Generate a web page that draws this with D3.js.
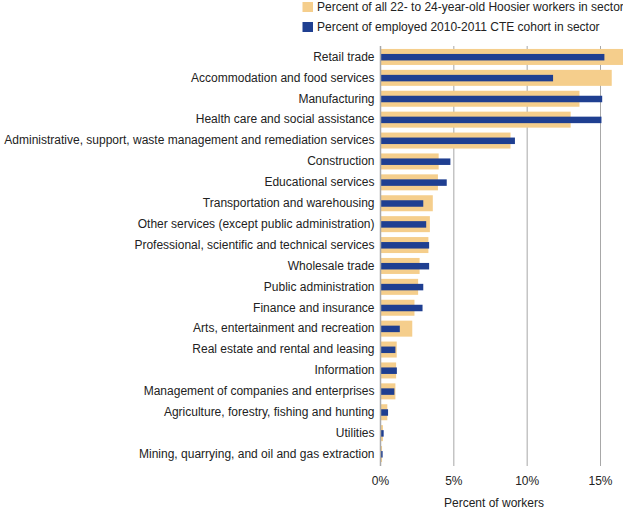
<!DOCTYPE html>
<html><head><meta charset="utf-8">
<script src="https://cdn.jsdelivr.net/npm/d3@7/dist/d3.min.js"></script>
<style>body{margin:0;background:#fff}svg{display:block;font-family:"Liberation Sans",Arial,Helvetica,sans-serif}</style>
</head><body><svg id="c" width="623" height="510"></svg>
<script>
const categories = ["Retail trade","Accommodation and food services","Manufacturing","Health care and social assistance","Administrative, support, waste management and remediation services","Construction","Educational services","Transportation and warehousing","Other services (except public administration)","Professional, scientific and technical services","Wholesale trade","Public administration","Finance and insurance","Arts, entertainment and recreation","Real estate and rental and leasing","Information","Management of companies and enterprises","Agriculture, forestry, fishing and hunting","Utilities","Mining, quarrying, and oil and gas extraction"];
const allWorkers = [16.6,15.8,13.6,13.0,8.9,4.0,3.95,3.6,3.4,3.3,2.7,2.6,2.35,2.2,1.14,1.1,1.05,0.5,0.2,0.14];
const cteCohort = [15.3,11.8,15.15,15.1,9.2,4.8,4.55,2.95,3.15,3.35,3.35,2.95,2.9,1.35,1.05,1.15,0.98,0.55,0.25,0.18];
const seriesNames = ["Percent of all 22- to 24-year-old Hoosier workers in sector","Percent of employed 2010-2011 CTE cohort in sector"];
const tickValues = [0,5,10,15];
const axisTitle = "Percent of workers";

const orange = "#F5CE8C", blue = "#1F3F91";
const svg = d3.select("#c");
const x = d3.scaleLinear().domain([0,15]).range([380,600]);
const y = d3.scaleBand().domain(categories).range([46.5,464.5]);

// gridlines
svg.append("g").selectAll("line").data(tickValues.filter(d=>d>0)).join("line")
  .attr("x1",d=>x(d)+0.5).attr("x2",d=>x(d)+0.5).attr("y1",46).attr("y2",466)
  .attr("stroke","#a8a8a8").attr("stroke-width",1);

// orange bars
svg.append("g").selectAll("rect").data(categories).join("rect")
  .attr("x",x(0)).attr("y",d=>y(d)+y.bandwidth()/2-8)
  .attr("width",(d,i)=>x(allWorkers[i])-x(0)).attr("height",16).attr("fill",orange);
// blue bars
svg.append("g").selectAll("rect").data(categories).join("rect")
  .attr("x",x(0)).attr("y",d=>y(d)+y.bandwidth()/2-3)
  .attr("width",(d,i)=>x(cteCohort[i])-x(0)).attr("height",6.5).attr("fill",blue);

// zero axis line
svg.append("line").attr("x1",x(0)+0.5).attr("x2",x(0)+0.5).attr("y1",46).attr("y2",466)
  .attr("stroke","#a8a8a8").attr("stroke-width",1.5);

// category labels
const yAxis = d3.axisLeft(y).tickSize(0).tickPadding(0);
const gy = svg.append("g").attr("transform",`translate(${x(0)-5.5},0)`).call(yAxis);
gy.select(".domain").remove();
gy.selectAll("text").attr("font-size",12).attr("fill","#222").attr("font-family","Liberation Sans, Arial, sans-serif");

// x axis
const xAxis = d3.axisBottom(x).tickValues(tickValues).tickFormat(d=>d+"%").tickSize(0).tickPadding(0);
const gx = svg.append("g").attr("transform","translate(0,476)").call(xAxis);
gx.select(".domain").remove();
gx.selectAll("text").attr("font-size",12).attr("fill","#222").attr("font-family","Liberation Sans, Arial, sans-serif");

svg.append("text").attr("x",494).attr("y",506.5).attr("text-anchor","middle")
  .attr("font-size",12).attr("fill","#222").text(axisTitle);

// legend
const legend = svg.append("g");
[orange,blue].forEach((c,i)=>{
  legend.append("rect").attr("x",302.5).attr("y",2+i*20).attr("width",10.5).attr("height",10).attr("fill",c);
  legend.append("text").attr("x",317).attr("y",11+i*20).attr("font-size",12).attr("fill","#222").text(seriesNames[i]);
});
</script></body></html>
